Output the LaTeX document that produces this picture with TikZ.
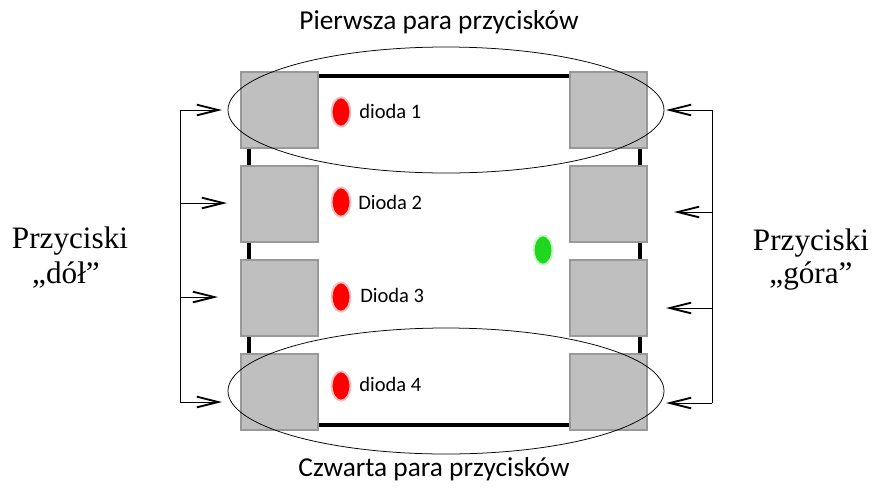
\documentclass[tikz,border=0pt]{standalone}
\usepackage{fontspec}
\setmainfont{Liberation Serif}
\newfontfamily\calibri{Carlito}
\usetikzlibrary{arrows.meta,positioning,shapes.geometric}

\begin{document}
\begin{tikzpicture}[x=0.75pt,y=-0.75pt,
    btn/.style={draw=black!40,fill=black!25,line width=0.03cm,
      minimum width=57.75pt,minimum height=57pt,inner sep=0pt},
    led/.style={ellipse,fill=red,draw=red!25,line width=0.05cm,
      minimum width=14pt,minimum height=22pt,inner sep=0pt},
    pair/.style={ellipse,draw,line width=0.02cm,
      minimum width=327pt,minimum height=94.5pt,inner sep=0pt},
    ledtext/.style={anchor=base west,inner sep=0pt,font=\calibri\fontsize{15.4}{18}\selectfont},
    pairtext/.style={anchor=base,font=\calibri\fontsize{20.5}{24}\selectfont},
    sidetext/.style={anchor=base,font=\fontsize{23.4}{28}\selectfont},
    push/.style={line width=0.025cm,-{Straight Barb[length=16pt,width=8pt,line width=1.4pt]}}]
  \useasboundingbox (0,0) rectangle (877,490);

  % Drawing frame
  \draw [line width=0.09cm] (249,76) rectangle (640,425);

  % Drawing buttons left
  \node [btn] (L1) at (279.5,110) {};
  \node [btn] (L2) at (279.5,204) {};
  \node [btn] (L3) at (279.5,298) {};
  \node [btn] (L4) at (279.5,392) {};

  % Drawing buttons right
  \node [btn] (R1) at (608.5,110) {};
  \node [btn] (R2) at (608.5,204) {};
  \node [btn] (R3) at (608.5,298) {};
  \node [btn] (R4) at (608.5,392) {};

  % Marking diodes
  \node [led] (d1) at (341,112) {};
  \node [led] (d2) at (341,202) {};
  \node [led] (d3) at (341,297) {};
  \node [led] (d4) at (341,386) {};
  \node [led,fill={rgb,255:red,30;green,215;blue,30},draw={rgb,255:red,200;green,250;blue,200}] (dg) at (543,250) {};

  % Marking diode labels
  \node [ledtext] (t1) at (359,118) {dioda 1};
  \node [ledtext] (t2) at (358,209) {Dioda 2};
  \node [ledtext] (t3) at (360,302) {Dioda 3};
  \node [ledtext] (t4) at (359,391) {dioda 4};

  % Drawing pairs
  \node [pair] (P1) at (446,110) {};
  \node [pair] (P4) at (446,391) {};
  \node [pairtext] (p1) at (439,29) {Pierwsza para przycisków};
  \node [pairtext] (p4) at (434,476) {Czwarta para przycisków};

  % Drawing arrows left
  \coordinate (lb1) at (180,110);
  \coordinate (lb2) at (180,203);
  \coordinate (lb3) at (180,297);
  \coordinate (lb4) at (180,402);
  \coordinate (lt1) at (222,110);
  \coordinate (lt2) at (227,203);
  \coordinate (lt3) at (218,297);
  \coordinate (lt4) at (222,402);
  \draw [line width=0.025cm] (lb1) -- (lb4);
  \foreach \i in {1,...,4}
    \draw [push] (lb\i) -- (lt\i);

  % Drawing arrows right
  \coordinate (rb1) at (712,110);
  \coordinate (rb2) at (712,212);
  \coordinate (rb3) at (712,308);
  \coordinate (rb4) at (712,403);
  \coordinate (rt1) at (666,110);
  \coordinate (rt2) at (674,212);
  \coordinate (rt3) at (666,308);
  \coordinate (rt4) at (666,403);
  \draw [line width=0.025cm] (rb1) -- (rb4);
  \foreach \i in {1,...,4}
    \draw [push] (rb\i) -- (rt\i);

  % Marking side labels
  \node [sidetext] (sl1) at (70,248) {Przyciski};
  \node [sidetext] (sl2) at (66,283) {„dół”};
  \node [sidetext] (sr1) at (811,250) {Przyciski};
  \node [sidetext] (sr2) at (811,283) {„góra”};
\end{tikzpicture}
\end{document}
